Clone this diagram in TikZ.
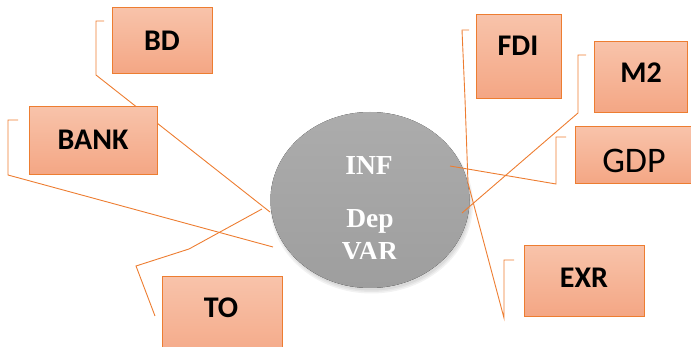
\documentclass[tikz,border=0pt]{standalone}
\usepackage{fontspec}
\setmainfont{Liberation Serif}
\newfontfamily\boxfont{Carlito}
\usetikzlibrary{shapes.geometric}
\definecolor{lineor}{RGB}{237,125,49}
\definecolor{boxtop}{RGB}{248,195,170}
\definecolor{boxbot}{RGB}{244,166,132}
\definecolor{circtop}{RGB}{172,172,172}
\definecolor{circbot}{RGB}{158,158,158}
\begin{document}
\begin{tikzpicture}[x=1pt,y=-1pt,
  vbox/.style={draw=lineor, line width=1pt, top color=boxtop, bottom color=boxbot, inner sep=0pt},
  vtext/.style={font=\boxfont\bfseries\fontsize{30}{30}\selectfont, text=black, inner sep=0pt},
  gtext/.style={font=\boxfont\fontsize{36}{36}\selectfont, text=black, inner sep=0pt},
  callout/.style={draw=lineor, line width=0.9pt, line join=miter},
  softshadow/.style={fill=black, opacity=0.05},
  ctext/.style={font=\bfseries\fontsize{27.5}{27.5}\selectfont, text=white, inner sep=0pt, anchor=base}]
\path[use as bounding box] (0,0) rectangle (691,347);
\clip (0,0) rectangle (691,347);

% soft shadow of the central ellipse (below and right)
\foreach \r in {0,1.5,3}
  \fill[softshadow] (371.5,204) ellipse [x radius=98.5+\r, y radius=86.5+\r];
% central ellipse
\node[ellipse, minimum width=199pt, minimum height=176pt, inner sep=0pt] (dep) at (370,200) {};
\fill[top color=circtop, bottom color=circbot] (dep.center) ellipse [x radius=99.5, y radius=88];
\node[ctext] (inf) at (369,175) {INF};
\node[ctext] (dept) at (370,228) {Dep};
\begin{scope}
  \clip (300,236) rectangle (440,259);
  \node[ctext] (var) at (370,261) {VAR};
\end{scope}

% callout points
\coordinate (bd1) at (104,21); \coordinate (bd2) at (96,21); \coordinate (bd3) at (96,75); \coordinate (bd4) at (270,212);
\coordinate (bk1) at (18,120); \coordinate (bk2) at (8,120); \coordinate (bk3) at (8,175); \coordinate (bk4) at (273,247);
\coordinate (to1) at (155,316); \coordinate (to2) at (136,266); \coordinate (to3) at (189,249); \coordinate (to4) at (262,209);
\coordinate (fd1) at (469,30); \coordinate (fd2) at (462,30); \coordinate (fd3) at (465,99); \coordinate (fd4) at (468,183);
\coordinate (ex1) at (514,260); \coordinate (ex2) at (504,260); \coordinate (ex3) at (504,318); \coordinate (ex4) at (468,183);
\coordinate (m1) at (586,55); \coordinate (m2) at (578,55); \coordinate (m3) at (578,113); \coordinate (m4) at (462,213);
\coordinate (g1) at (566,137); \coordinate (g2) at (556,137); \coordinate (g3) at (556,184); \coordinate (g4) at (450,166);

\draw[callout] (bd1) -- (bd2) -- (bd3) -- (bd4);
\draw[callout] (bk1) -- (bk2) -- (bk3) -- (bk4);
\draw[callout] (to1) -- (to2) -- (to3) -- (to4);
\draw[callout] (fd1) -- (fd2) -- (fd3) -- (fd4);
\draw[callout] (ex1) -- (ex2) -- (ex3) -- (ex4);
\draw[callout] (m1) -- (m2) -- (m3) -- (m4);
\draw[callout] (g1) -- (g2) -- (g3) -- (g4);

% boxes
\node[vbox, minimum width=100pt, minimum height=66pt] (bd) at (162,41) {};
\node[vbox, minimum width=128pt, minimum height=68pt] (bank) at (93,141) {};
\node[vbox, minimum width=120pt, minimum height=90pt] (to) at (222,322) {};
\node[vbox, minimum width=85pt, minimum height=84pt] (fdi) at (518.5,57) {};
\node[vbox, minimum width=93pt, minimum height=71pt] (mtwo) at (640.5,77.5) {};
\node[vbox, minimum width=135pt, minimum height=57pt] (gdp) at (642.5,155.5) {};
\node[vbox, minimum width=120pt, minimum height=71pt] (exr) at (584,281.5) {};

\node[vtext] (bdt) at (162,41) {BD};
\node[vtext] (bankt) at (93,140) {BANK};
\node[vtext] (tot) at (221,308) {TO};
\node[vtext] (fdit) at (518,46) {FDI};
\node[vtext] (mtwot) at (641,73) {M2};
\node[gtext] (gdpt) at (634,161) {GDP};
\node[vtext] (exrt) at (584,278) {EXR};
\end{tikzpicture}
\end{document}
